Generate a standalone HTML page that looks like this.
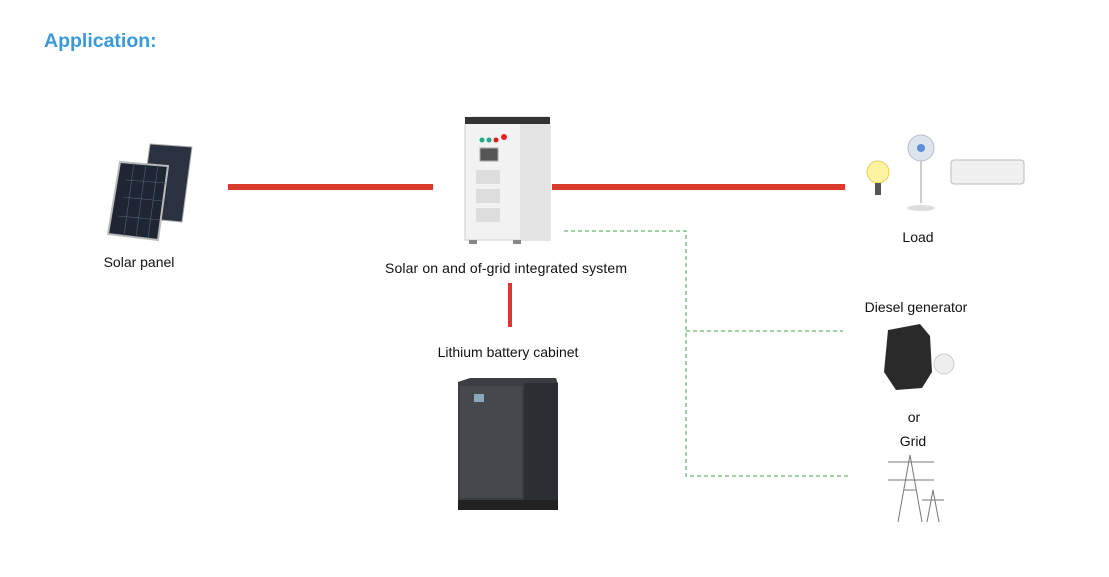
<!DOCTYPE html>
<html><head><meta charset="utf-8"><style>
html,body{margin:0;padding:0;background:#fff;width:1109px;height:577px;overflow:hidden}
svg{display:block}
text{font-family:"Liberation Sans",sans-serif;font-size:14px;fill:#111}
</style></head><body>
<svg width="1109" height="577" viewBox="0 0 1109 577">
<text x="44" y="47" style="font-size:19.5px;font-weight:bold;fill:#3a9ad9">Application:</text>
<rect x="228" y="184" width="205" height="6" fill="#d93a2b"/>
<rect x="552" y="184" width="293" height="6" fill="#d93a2b"/>
<rect x="508" y="283" width="4" height="44" fill="#d93a2b"/>
<path d="M564 231 H686 V476 H848 M686 331 H843" fill="none" stroke="#3ea84a" stroke-width="1" stroke-dasharray="4,3"/>
<g>
<polygon points="150,144 192,147 182,222 140,218" fill="#2a3140" stroke="#aaa"/>
<polygon points="120,162 168,166 158,240 108,234" fill="#1e2533" stroke="#bbb" stroke-width="2"/>
<g stroke="#55627a" stroke-width="0.6">
<line x1="126" y1="180" x2="166" y2="183"/><line x1="123" y1="197" x2="163" y2="201"/><line x1="118" y1="216" x2="160" y2="220"/>
<line x1="134" y1="163" x2="124" y2="236"/><line x1="146" y1="164" x2="136" y2="237"/><line x1="158" y1="165" x2="148" y2="238"/>
</g>
</g>
<text x="139" y="267" text-anchor="middle">Solar panel</text>
<g>
<polygon points="465,124 473,117 548,117 550,124 550,240 465,240" fill="#f2f2f2" stroke="#ccc"/>
<rect x="465" y="117" width="85" height="7" fill="#333"/>
<rect x="520" y="124" width="30" height="116" fill="#e4e4e4"/>
<circle cx="482" cy="140" r="2.5" fill="#2a8"/><circle cx="489" cy="140" r="2.5" fill="#2a8"/><circle cx="496" cy="140" r="2.5" fill="#c22"/><circle cx="504" cy="137" r="3" fill="#e22"/>
<rect x="480" y="148" width="18" height="13" fill="#555" stroke="#aaa"/>
<rect x="476" y="170" width="24" height="14" fill="#ddd"/><rect x="476" y="189" width="24" height="14" fill="#ddd"/><rect x="476" y="208" width="24" height="14" fill="#ddd"/>
<rect x="469" y="240" width="8" height="4" fill="#888"/><rect x="513" y="240" width="8" height="4" fill="#888"/>
</g>
<text x="506" y="273" text-anchor="middle" textLength="242">Solar on and of-grid integrated system</text>
<text x="508" y="357" text-anchor="middle">Lithium battery cabinet</text>
<g>
<polygon points="458,382 470,378 556,378 558,384 558,505 458,505" fill="#3a3d42"/>
<rect x="524" y="383" width="34" height="122" fill="#2b2e32"/>
<rect x="460" y="386" width="62" height="112" fill="#45484d"/>
<rect x="474" y="394" width="10" height="8" fill="#8ab"/>
<rect x="458" y="500" width="100" height="10" fill="#222"/>
</g>
<circle cx="878" cy="172" r="11" fill="#fff3a0" stroke="#e8d060"/>
<rect x="875" y="183" width="6" height="12" fill="#555"/>
<circle cx="921" cy="148" r="13" fill="#dde4ee" stroke="#bbc"/>
<circle cx="921" cy="148" r="4" fill="#5b8ed6"/>
<rect x="920" y="161" width="2" height="42" fill="#ccc"/>
<ellipse cx="921" cy="208" rx="14" ry="3" fill="#ddd"/>
<rect x="951" y="160" width="73" height="24" rx="3" fill="#f0f0f0" stroke="#bbb"/>
<text x="918" y="242" text-anchor="middle">Load</text>
<text x="916" y="312" text-anchor="middle">Diesel generator</text>
<path d="M888 330 L920 324 L930 336 L932 372 L922 388 L896 390 L884 372 Z" fill="#2a2a2a"/>
<circle cx="944" cy="364" r="10" fill="#eee" stroke="#ccc"/>
<text x="914" y="422" text-anchor="middle">or</text>
<text x="913" y="446" text-anchor="middle">Grid</text>
<g stroke="#777" stroke-width="1" fill="none">
<path d="M898 522 L910 455 L922 522 M904 490 H916 M888 462 H934 M888 480 H934"/>
<path d="M927 522 L933 490 L939 522 M922 500 H944"/>
</g>
</svg>
</body></html>
